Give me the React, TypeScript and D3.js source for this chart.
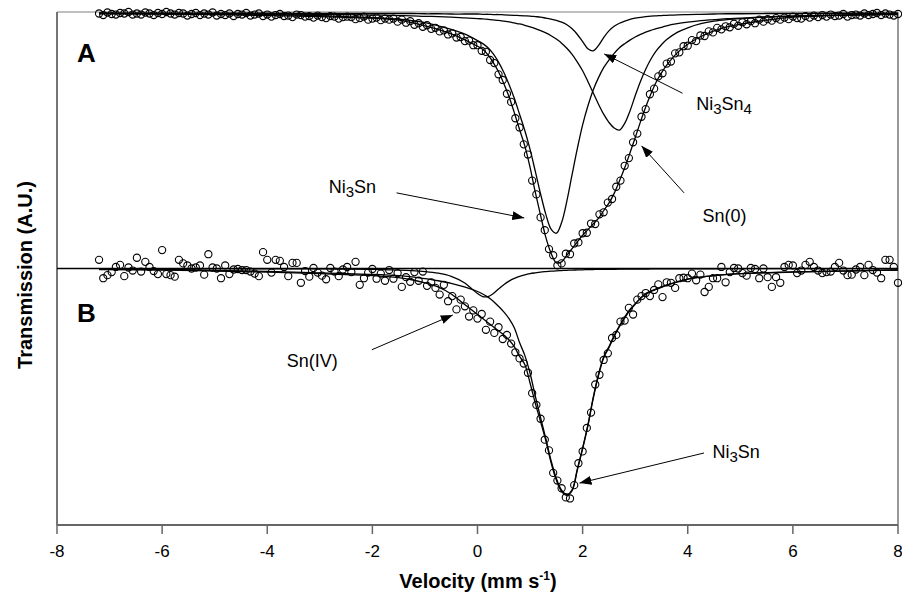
import React from 'react';
import * as d3 from 'd3';

const width = 902;
const height = 593;
const plot = { left: 57, right: 898, top: 12, bottom: 525 };

// channel velocities of the measured points (mm/s)
const velocity = [
  -7.2, -7.12, -7.04, -6.96, -6.88, -6.8, -6.72, -6.64, -6.56, -6.48,
  -6.4, -6.32, -6.24, -6.16, -6.08, -6, -5.92, -5.84, -5.76, -5.68,
  -5.6, -5.52, -5.44, -5.36, -5.28, -5.2, -5.12, -5.04, -4.96, -4.88,
  -4.8, -4.72, -4.64, -4.56, -4.48, -4.4, -4.32, -4.24, -4.16, -4.08,
  -4, -3.92, -3.84, -3.76, -3.68, -3.6, -3.52, -3.44, -3.36, -3.28,
  -3.2, -3.12, -3.04, -2.96, -2.88, -2.8, -2.72, -2.64, -2.56, -2.48,
  -2.4, -2.32, -2.24, -2.16, -2.08, -2, -1.92, -1.84, -1.76, -1.68,
  -1.6, -1.52, -1.44, -1.36, -1.28, -1.2, -1.12, -1.04, -0.96, -0.88,
  -0.8, -0.72, -0.64, -0.56, -0.48, -0.4, -0.32, -0.24, -0.16, -0.08,
  0, 0.08, 0.16, 0.24, 0.32, 0.4, 0.48, 0.56, 0.64, 0.72,
  0.8, 0.88, 0.96, 1.04, 1.12, 1.2, 1.28, 1.36, 1.44, 1.52,
  1.6, 1.68, 1.76, 1.84, 1.92, 2, 2.08, 2.16, 2.24, 2.32,
  2.4, 2.48, 2.56, 2.64, 2.72, 2.8, 2.88, 2.96, 3.04, 3.12,
  3.2, 3.28, 3.36, 3.44, 3.52, 3.6, 3.68, 3.76, 3.84, 3.92,
  4, 4.08, 4.16, 4.24, 4.32, 4.4, 4.48, 4.56, 4.64, 4.72,
  4.8, 4.88, 4.96, 5.04, 5.12, 5.2, 5.28, 5.36, 5.44, 5.52,
  5.6, 5.68, 5.76, 5.84, 5.92, 6, 6.08, 6.16, 6.24, 6.32,
  6.4, 6.48, 6.56, 6.64, 6.72, 6.8, 6.88, 6.96, 7.04, 7.12,
  7.2, 7.28, 7.36, 7.44, 7.52, 7.6, 7.68, 7.76, 7.84, 7.92,
  8,
];

// spectrum A (upper), arbitrary transmission units
const spectrumA = [
  99.9, 99.6, 100.1, 99.8, 99.7, 100.0, 99.9, 100.2, 99.7, 99.9,
  99.7, 100.1, 99.9, 99.6, 100.0, 99.8, 100.2, 99.9, 99.7, 100.0,
  99.9, 99.5, 99.8, 100.0, 99.6, 99.9, 99.7, 100.1, 99.5, 99.8,
  99.6, 99.9, 99.4, 99.8, 99.7, 100.0, 99.5, 99.7, 99.9, 99.4,
  99.7, 99.3, 99.6, 99.8, 99.4, 99.5, 99.2, 99.7, 99.6, 99.3,
  99.4, 99.1, 99.5, 99.2, 99.0, 99.4, 99.3, 98.9, 99.2, 99.3,
  99.2, 98.8, 99.0, 99.3, 98.7, 98.9, 99.1, 98.6, 98.9, 98.7,
  98.9, 98.3, 98.7, 98.1, 98.4, 97.7, 98.0, 97.3, 97.6, 96.9,
  97.1, 96.4, 96.6, 95.8, 96.0, 95.2, 95.3, 94.5, 94.6, 93.7,
  93.7, 92.6, 92.4, 90.8, 90.2, 88.0, 86.9, 84.2, 82.6, 79.4,
  77.6, 74.3, 72.3, 67.2, 64.5, 60.0, 57.5, 53.8, 52.6, 50.6,
  51.0, 52.9, 52.8, 54.9, 55.1, 56.9, 57.0, 58.8, 58.7, 60.6,
  61.0, 62.9, 63.6, 66.0, 67.2, 70.1, 71.6, 74.7, 76.4, 79.7,
  81.2, 84.1, 85.2, 87.6, 88.2, 90.1, 90.5, 92.1, 92.3, 93.5,
  93.6, 94.7, 94.5, 95.6, 95.5, 96.4, 96.2, 97.1, 96.8, 97.4,
  97.2, 97.9, 97.5, 98.2, 97.8, 98.4, 98.0, 98.7, 98.3, 98.8,
  98.5, 99.0, 98.7, 99.1, 98.8, 99.3, 99.0, 98.9, 99.4, 99.1,
  99.5, 99.2, 99.6, 99.3, 99.7, 99.4, 99.5, 99.8, 99.3, 99.6,
  99.7, 99.5, 99.9, 99.6, 99.8, 100.0, 99.6, 99.9, 99.7, 99.5,
  99.8,
];

// spectrum B (lower)
const spectrumB = [
  51.7, 48.1, 48.7, 49.3, 50.3, 50.7, 48.5, 50.2, 49.6, 52.1,
  49.4, 51.3, 50.3, 49.5, 48.9, 53.6, 48.9, 48.7, 48.4, 51.7,
  51.0, 50.6, 50.0, 50.2, 50.6, 48.8, 52.8, 50.2, 50.0, 48.1,
  50.6, 48.9, 49.8, 49.9, 49.7, 49.7, 49.4, 49.0, 48.5, 53.2,
  51.7, 49.2, 51.7, 51.5, 50.3, 48.5, 51.1, 51.1, 47.2, 49.5,
  48.4, 50.1, 49.2, 48.6, 47.9, 50.1, 49.4, 48.5, 49.8, 50.3,
  49.3, 51.3, 46.8, 48.1, 49.2, 49.9, 48.0, 49.0, 47.6, 49.7,
  48.0, 49.1, 46.4, 48.3, 47.4, 49.3, 47.6, 49.4, 46.6, 47.3,
  46.2, 44.9, 46.8, 43.6, 44.6, 42.0, 43.9, 42.6, 40.6, 41.8,
  40.2, 41.1, 38.0, 39.6, 37.4, 38.5, 36.2, 37.0, 35.3, 33.6,
  32.4, 31.4, 29.6, 25.6, 23.3, 20.6, 16.5, 14.4, 10.0, 8.5,
  7.0, 5.2, 5.0, 7.6, 11.9, 14.2, 18.8, 21.8, 27.3, 29.2,
  32.1, 33.4, 36.4, 37.0, 39.6, 39.8, 42.3, 41.0, 43.9, 44.6,
  45.2, 44.6, 45.8, 46.9, 44.4, 47.3, 47.2, 46.2, 48.1, 48.2,
  48.1, 49.0, 47.7, 48.8, 45.4, 46.4, 48.1, 48.1, 50.3, 47.3,
  49.3, 50.1, 50.0, 49.1, 48.6, 50.1, 49.9, 48.1, 50.0, 48.3,
  46.4, 48.3, 47.2, 50.3, 50.7, 50.6, 49.1, 49.6, 50.7, 51.3,
  50.3, 49.6, 49.1, 49.3, 49.4, 50.3, 51.1, 49.6, 48.7, 48.8,
  49.8, 50.3, 48.7, 50.7, 49.7, 49.2, 48.1, 51.7, 51.7, 50.3,
  47.2,
];

// velocities at which the fitted curves were read
const fitVelocity = [
  -7.2, -6, -5, -4, -3, -2.5, -2, -1.5, -1.25, -1, -0.75, -0.5, -0.25,
  0, 0.1, 0.2, 0.3, 0.4, 0.5, 0.6, 0.7, 0.8, 0.9, 1, 1.1, 1.2, 1.3, 1.4,
  1.5, 1.6, 1.7, 1.8, 1.9, 2, 2.1, 2.2, 2.3, 2.4, 2.5, 2.6, 2.7, 2.8, 2.9,
  3, 3.1, 3.2, 3.3, 3.4, 3.5, 3.6, 3.8, 4, 4.25, 4.5, 4.75, 5, 5.5, 6,
  6.5, 7, 7.5, 8,
];

const fitATotal = [
  99.9, 99.8, 99.7, 99.5, 99.3, 99.15, 99.0, 98.6, 98.1, 97.5, 96.8, 95.9, 94.8,
  93.5, 92.9, 91.8, 90.3, 88.5, 86.2, 83.6, 80.5, 77.2, 74.0, 69.8, 64.9, 60.4, 56.1, 53.0,
  51.1, 51.3, 52.6, 53.9, 55.2, 56.5, 57.6, 58.7, 59.8, 61.3, 62.8, 64.7, 67.1, 69.7, 72.6,
  75.6, 78.7, 81.6, 84.2, 86.5, 88.3, 89.8, 92.2, 93.9, 95.4, 96.5, 97.3, 97.8, 98.6, 99.2,
  99.4, 99.6, 99.7, 99.8,
];

const fitANi3Sn = [
  99.9, 99.85, 99.8, 99.7, 99.5, 99.3, 99.1, 98.8, 98.5, 98.1, 97.5, 96.8, 95.9,
  94.6, 94.0, 93.2, 92.0, 90.4, 88.4, 86.0, 83.3, 80.2, 77.0, 73.3, 69.0, 64.6, 60.6, 57.7,
  56.9, 59.0, 63.2, 68.4, 73.5, 78.1, 81.8, 84.9, 87.3, 89.3, 90.8, 92.1, 93.2, 94.0, 94.7,
  95.3, 95.8, 96.25, 96.6, 96.95, 97.2, 97.5, 97.9, 98.2, 98.5, 98.7, 98.9, 99.0, 99.26, 99.4,
  99.5, 99.6, 99.65, 99.7,
];

const fitANi3Sn4 = [
  99.95, 99.95, 99.95, 99.95, 99.9, 99.9, 99.9, 99.9, 99.9, 99.85, 99.85, 99.8, 99.8,
  99.8, 99.75, 99.75, 99.7, 99.7, 99.65, 99.6, 99.55, 99.5, 99.45, 99.4, 99.3, 99.2, 99.0, 98.8,
  98.55, 98.2, 97.7, 96.9, 95.8, 94.4, 93.0, 92.6, 93.6, 95.2, 96.5, 97.4, 98.0, 98.4, 98.75,
  99.0, 99.15, 99.3, 99.4, 99.45, 99.5, 99.55, 99.65, 99.7, 99.75, 99.8, 99.85, 99.85, 99.9, 99.9,
  99.95, 99.95, 99.95, 99.95,
];

const fitASn0 = [
  99.9, 99.9, 99.85, 99.8, 99.75, 99.7, 99.6, 99.5, 99.45, 99.35, 99.3, 99.2, 99.05,
  98.9, 98.85, 98.75, 98.65, 98.55, 98.4, 98.25, 98.05, 97.85, 97.6, 97.3, 96.95, 96.55, 96.1, 95.55,
  94.9, 94.1, 93.1, 91.9, 90.4, 88.7, 86.6, 84.4, 82.2, 80.2, 78.6, 77.5, 77.1, 78.4, 80.8,
  83.8, 86.6, 89.0, 91.0, 92.6, 93.8, 94.8, 96.2, 97.1, 97.9, 98.4, 98.7, 98.9, 99.2, 99.4,
  99.55, 99.6, 99.7, 99.75,
];

const fitBTotal = [
  49.8, 49.7, 49.5, 49.3, 49.0, 48.8, 48.6, 48.2, 47.8, 47.2, 46.4, 45.0, 43.0,
  41.0, 40.2, 39.4, 38.6, 37.8, 37.0, 36.0, 34.7, 32.8, 31.2, 27.6, 23.6, 20.0, 16.3, 12.0,
  8.6, 6.4, 5.6, 6.5, 10.6, 14.7, 19.2, 24.5, 29.0, 32.5, 34.5, 36.7, 38.6, 40.3, 41.8,
  43.0, 44.1, 45.0, 45.5, 45.9, 46.3, 46.7, 47.4, 47.9, 48.3, 48.6, 48.85, 49.0, 49.15, 49.3,
  49.4, 49.5, 49.6, 49.7,
];

const fitBNi3Sn = [
  49.9, 49.8, 49.65, 49.45, 49.15, 49.0, 48.85, 48.6, 48.35, 48.0, 47.6, 47.1, 46.4,
  45.5, 45.0, 44.4, 43.6, 42.6, 41.5, 40.2, 38.4, 35.5, 33.0, 29.5, 25.0, 20.8, 16.7, 12.4,
  8.9, 6.6, 5.8, 6.7, 10.8, 14.9, 19.4, 24.7, 29.2, 32.7, 34.7, 36.9, 38.8, 40.5, 42.0,
  43.1, 44.2, 45.1, 45.6, 46.0, 46.4, 46.8, 47.4, 47.9, 48.3, 48.6, 48.85, 49.0, 49.2, 49.35,
  49.45, 49.55, 49.65, 49.75,
];

const fitBSnIV = [
  49.98, 49.97, 49.96, 49.93, 49.91, 49.86, 49.81, 49.69, 49.58, 49.4, 49.08, 48.46, 47.2,
  45.1, 44.5, 44.5, 45.1, 46.0, 46.83, 47.53, 48.06, 48.46, 48.76, 48.99, 49.15, 49.29, 49.39, 49.48,
  49.55, 49.6, 49.65, 49.69, 49.72, 49.75, 49.77, 49.8, 49.82, 49.83, 49.84, 49.85, 49.86, 49.87, 49.88,
  49.89, 49.9, 49.9, 49.91, 49.91, 49.92, 49.92, 49.93, 49.94, 49.95, 49.95, 49.96, 49.96, 49.97, 49.97,
  49.97, 49.98, 49.98, 49.98,
];

const baselineB = 50;
const xTicks = [-8, -6, -4, -2, 0, 2, 4, 6, 8];

// annotation labels: text position, arrow start, arrow tip (velocity, transmission)
const annotations = [
  { parts: [['Ni'], ['3', 'sub'], ['Sn'], ['4', 'sub']], at: [4.16, 81.0], from: [3.9, 84.3], to: [2.41, 92.0] },
  { parts: [['Sn(0)']], at: [4.28, 59.1], from: [3.93, 64.8], to: [3.12, 74.0] },
  { parts: [['Ni'], ['3', 'sub'], ['Sn']], at: [-2.83, 64.8], from: [-1.54, 64.8], to: [0.89, 59.9] },
  { parts: [['Sn(IV)']], at: [-3.63, 30.7], from: [-2.01, 34.1], to: [-0.47, 40.9] },
  { parts: [['Ni'], ['3', 'sub'], ['Sn']], at: [4.47, 12.9], from: [4.31, 13.9], to: [1.94, 8.0] },
];

const panelLabels = [
  { text: 'A', at: [-7.62, 90.4] },
  { text: 'B', at: [-7.62, 39.5] },
];

const font = '"Liberation Sans", Arial, Helvetica, sans-serif';

function RichText({ x, y, parts, size }: { x: number; y: number; parts: string[][]; size: number }) {
  let shift = 0;
  return (
    <text x={x} y={y} fontSize={size} fontFamily={font} fill="#000">
      {parts.map((p, i) => {
        const target = p[1] === 'sub' ? 4 : p[1] === 'sup' ? -7 : 0;
        const dy = target - shift;
        shift = target;
        const fs = p[1] === 'sub' ? size - 3 : p[1] === 'sup' ? size * 0.6 : size;
        return (
          <tspan key={i} dy={dy} fontSize={fs}>
            {p[0]}
          </tspan>
        );
      })}
    </text>
  );
}

export default function App() {
  const x = d3.scaleLinear().domain([-8, 8]).range([plot.left, plot.right]);
  const y = d3.scaleLinear().domain([0, 100]).range([524, 13]);

  const line = d3
    .line<number>()
    .x((_, i) => x(fitVelocity[i]))
    .y((d) => y(d))
    .curve(d3.curveCatmullRom.alpha(0.5));

  const fits = [fitANi3Sn4, fitASn0, fitANi3Sn, fitATotal, fitBSnIV, fitBNi3Sn, fitBTotal];

  return (
    <svg width={width} height={height} style={{ position: 'absolute', left: 0, top: 0, background: '#fff' }}>
      <defs>
        <marker id="arrow" viewBox="0 0 12 9" refX="12" refY="4.5" markerWidth="12" markerHeight="9"
          markerUnits="userSpaceOnUse" orient="auto">
          <path d="M0,0 L12,4.5 L0,9 z" fill="#000" />
        </marker>
      </defs>
      <rect width={width} height={height} fill="#fff" />

      {/* frame */}
      <line x1={plot.left} x2={plot.right} y1={plot.top} y2={plot.top} stroke="#aaa" strokeWidth={1.5} />
      <line x1={plot.right} x2={plot.right} y1={plot.top} y2={plot.bottom} stroke="#777" strokeWidth={1.5} />
      <line x1={plot.left} x2={plot.left} y1={plot.top} y2={plot.bottom} stroke="#666" strokeWidth={1.8} />
      <line x1={plot.left} x2={plot.right} y1={plot.bottom} y2={plot.bottom} stroke="#666" strokeWidth={1.8} />

      {xTicks.map((t) => (
        <g key={t}>
          <line x1={x(t)} x2={x(t)} y1={plot.bottom} y2={plot.bottom + 9} stroke="#666" strokeWidth={1.5} />
          <text x={x(t)} y={557} textAnchor="middle" fontSize={17} fontFamily={font}>
            {t}
          </text>
        </g>
      ))}

      {/* baseline of spectrum B */}
      <line x1={plot.left} x2={plot.right} y1={y(baselineB)} y2={y(baselineB)} stroke="#000" strokeWidth={1.3} />

      {fits.map((f, i) => (
        <path key={i} d={line(f) || ''} fill="none" stroke="#000" strokeWidth={1.3} />
      ))}

      {velocity.map((v, i) => (
        <circle key={'a' + i} cx={x(v)} cy={y(spectrumA[i])} r={3.6} fill="none" stroke="#000" strokeWidth={1.1} />
      ))}
      {velocity.map((v, i) => (
        <circle key={'b' + i} cx={x(v)} cy={y(spectrumB[i])} r={3.6} fill="none" stroke="#000" strokeWidth={1.1} />
      ))}

      {annotations.map((a, i) => (
        <g key={i}>
          <line x1={x(a.from[0])} y1={y(a.from[1])} x2={x(a.to[0])} y2={y(a.to[1])} stroke="#000" strokeWidth={1}
            markerEnd="url(#arrow)" />
          <RichText x={x(a.at[0])} y={y(a.at[1])} parts={a.parts} size={18} />
        </g>
      ))}

      {panelLabels.map((p) => (
        <text key={p.text} x={x(p.at[0])} y={y(p.at[1])} fontSize={26} fontWeight="bold" fontFamily={font}>
          {p.text}
        </text>
      ))}

      <text x={478} y={588} textAnchor="middle" fontSize={20} fontWeight="bold" fontFamily={font}>
        Velocity (mm s
        <tspan dy={-8} fontSize={12}>-1</tspan>
        <tspan dy={8}>)</tspan>
      </text>
      <text transform="translate(32,275) rotate(-90)" textAnchor="middle" fontSize={20} fontWeight="bold"
        fontFamily={font}>
        Transmission (A.U.)
      </text>
    </svg>
  );
}
